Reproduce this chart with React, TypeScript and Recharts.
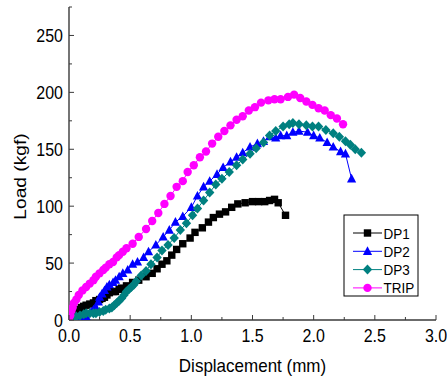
import React from 'react';
import { LineChart, Line, XAxis, YAxis } from 'recharts';

const dp1Disp = [0, 0.02, 0.04, 0.06, 0.08, 0.1, 0.12, 0.14, 0.17, 0.2, 0.22, 0.25, 0.27, 0.29, 0.31, 0.33, 0.36, 0.38, 0.41, 0.43, 0.47, 0.52, 0.57, 0.63, 0.68, 0.72, 0.76, 0.8, 0.84, 0.88, 0.93, 0.99, 1.03, 1.09, 1.14, 1.18, 1.23, 1.28, 1.33, 1.38, 1.44, 1.5, 1.55, 1.6, 1.64, 1.68, 1.71, 1.77];
const dp1Load = [0, 3, 5, 7, 9, 11, 12, 13, 14, 15, 17, 18, 19, 20, 22, 24, 25, 25, 27, 28, 30, 33, 35, 38, 41, 45, 49, 52, 57, 62, 67, 72, 77, 81, 86, 90, 93, 95, 99, 102, 103, 104, 104, 104, 105, 106, 103, 92];

const dp2Disp = [0, 0.05, 0.1, 0.14, 0.18, 0.2, 0.22, 0.24, 0.25, 0.27, 0.29, 0.31, 0.33, 0.36, 0.38, 0.41, 0.44, 0.48, 0.52, 0.56, 0.61, 0.65, 0.71, 0.77, 0.82, 0.87, 0.93, 1.0, 1.05, 1.1, 1.15, 1.21, 1.26, 1.32, 1.37, 1.42, 1.48, 1.54, 1.59, 1.64, 1.69, 1.73, 1.78, 1.83, 1.88, 1.95, 2.0, 2.05, 2.11, 2.16, 2.22, 2.26, 2.31];
const dp2Load = [0, 0, 1, 3, 7, 9, 11, 16, 20, 23, 26, 29, 31, 33, 35, 38, 41, 44, 49, 51, 55, 60, 66, 73, 79, 86, 91, 99, 109, 117, 122, 128, 134, 139, 143, 147, 152, 155, 157, 161, 160, 162, 162, 165, 166, 165, 162, 160, 156, 152, 148, 146, 124];

const dp3Disp = [0, 0.03, 0.06, 0.09, 0.12, 0.14, 0.17, 0.2, 0.22, 0.25, 0.28, 0.3, 0.33, 0.35, 0.37, 0.39, 0.41, 0.43, 0.45, 0.47, 0.49, 0.51, 0.53, 0.55, 0.59, 0.63, 0.67, 0.72, 0.76, 0.81, 0.86, 0.91, 0.96, 1.01, 1.05, 1.1, 1.15, 1.2, 1.25, 1.31, 1.37, 1.42, 1.48, 1.53, 1.59, 1.64, 1.69, 1.75, 1.8, 1.83, 1.88, 1.94, 1.99, 2.04, 2.1, 2.16, 2.21, 2.26, 2.3, 2.34, 2.39];
const dp3Load = [0, 2, 3, 4, 5, 6, 6, 6, 6, 7, 8, 9, 10, 11, 13, 15, 17, 19, 22, 25, 27, 29, 31, 34, 39, 43, 49, 55, 61, 66, 72, 79, 85, 92, 98, 105, 112, 119, 124, 130, 136, 141, 146, 151, 156, 162, 166, 170, 172, 173, 172, 171, 170, 170, 167, 164, 161, 157, 154, 150, 147];

const tripDisp = [0, 0.01, 0.02, 0.03, 0.04, 0.06, 0.08, 0.11, 0.14, 0.17, 0.2, 0.22, 0.25, 0.28, 0.3, 0.33, 0.36, 0.39, 0.41, 0.44, 0.47, 0.52, 0.57, 0.63, 0.68, 0.73, 0.78, 0.83, 0.88, 0.93, 0.97, 1.02, 1.07, 1.12, 1.17, 1.22, 1.27, 1.32, 1.37, 1.42, 1.47, 1.52, 1.57, 1.63, 1.68, 1.73, 1.79, 1.84, 1.89, 1.94, 1.99, 2.04, 2.09, 2.14, 2.19, 2.24];
const tripLoad = [0, 4, 8, 11, 15, 18, 22, 26, 29, 32, 35, 38, 41, 44, 46, 49, 51, 55, 57, 60, 63, 67, 73, 80, 87, 94, 102, 109, 117, 122, 130, 136, 143, 148, 155, 161, 166, 171, 176, 179, 184, 187, 191, 193, 194, 194, 196, 198, 195, 192, 189, 186, 184, 180, 177, 172];

const seriesNames = ['DP1', 'DP2', 'DP3', 'TRIP'];
const seriesColors = ['#000000', '#0000FF', '#008080', '#FF00FF'];
const seriesShapes = ['square', 'triangle', 'diamond', 'circle'];

const xTicks = [0, 0.25, 0.5, 0.75, 1, 1.25, 1.5, 1.75, 2, 2.25, 2.5, 2.75, 3];
const xMajor = [0, 0.5, 1, 1.5, 2, 2.5, 3];
const yTicks = [0, 25, 50, 75, 100, 125, 150, 175, 200, 225, 250, 275];
const yMajor = [0, 50, 100, 150, 200, 250];

const toRows = (xs: number[], ys: number[]) => xs.map((x, i) => ({ x, y: ys[i] }));
const seriesData = [
  toRows(dp1Disp, dp1Load),
  toRows(dp2Disp, dp2Load),
  toRows(dp3Disp, dp3Load),
  toRows(tripDisp, tripLoad),
];

const FONT = '"Liberation Sans", Arial, sans-serif';
const AXIS = '#3a3a3a';
const TEXT = '#000000';

function Marker({ shape, cx, cy, color }: any) {
  if (cx == null || cy == null) return null;
  if (shape === 'square') return <rect x={cx - 3.7} y={cy - 3.7} width={7.4} height={7.4} fill={color} />;
  if (shape === 'triangle') return <polygon points={`${cx},${cy - 5} ${cx - 4.6},${cy + 3.6} ${cx + 4.6},${cy + 3.6}`} fill={color} />;
  if (shape === 'diamond') return <polygon points={`${cx},${cy - 5} ${cx + 4.7},${cy} ${cx},${cy + 5} ${cx - 4.7},${cy}`} fill={color} />;
  return <circle cx={cx} cy={cy} r={4.2} fill={color} />;
}

function SText({ x, y, sx = 1, sy = 1, rot = 0, anchor = 'start', size, children }: any) {
  return (
    <text
      transform={`translate(${x},${y}) rotate(${rot}) scale(${sx},${sy})`}
      x={0}
      y={0}
      textAnchor={anchor}
      fontSize={size}
      fontFamily={FONT}
      fill={TEXT}
    >
      {children}
    </text>
  );
}

const XTickBottom = (props: any) => {
  const { x, y, payload } = props;
  const major = xMajor.includes(payload.value);
  return (
    <g>
      <line x1={x} x2={x} y1={y} y2={y - (major ? 5 : 3)} stroke={AXIS} strokeWidth={1} />
      {major && (
        <SText x={x} y={y + 22} sy={1.15} anchor="middle" size={16}>
          {payload.value.toFixed(1)}
        </SText>
      )}
    </g>
  );
};
const XTickTop = (props: any) => {
  const { x, y, payload } = props;
  const major = xMajor.includes(payload.value);
  return <line x1={x} x2={x} y1={y} y2={y + (major ? 5 : 3)} stroke={AXIS} strokeWidth={1} />;
};
const YTickLeft = (props: any) => {
  const { x, y, payload } = props;
  const major = yMajor.includes(payload.value);
  return (
    <g>
      <line x1={x} x2={x + (major ? 5 : 3)} y1={y} y2={y} stroke={AXIS} strokeWidth={1} />
      {major && (
        <SText x={x - 6} y={y + 6.5} sy={1.15} anchor="end" size={16}>
          {payload.value}
        </SText>
      )}
    </g>
  );
};
const YTickRight = (props: any) => {
  const { x, y, payload } = props;
  const major = yMajor.includes(payload.value);
  return <line x1={x} x2={x - (major ? 5 : 3)} y1={y} y2={y} stroke={AXIS} strokeWidth={1} />;
};

function LegendBox() {
  return (
    <svg width={80} height={86} style={{ position: 'absolute', left: 343, top: 214 }}>
      <rect x={1} y={1} width={74} height={81} fill="#fff" stroke="#000" strokeWidth={1} />
      {seriesNames.map((n, i) => {
        const cy = 19 + i * 18.3;
        return (
          <g key={n}>
            <line x1={10} x2={39} y1={cy} y2={cy} stroke={seriesColors[i]} strokeWidth={1} />
            <Marker shape={seriesShapes[i]} cx={24.5} cy={cy} color={seriesColors[i]} />
            <SText x={40.5} y={cy + 5.5} sy={1.1} size={13.5}>{n}</SText>
          </g>
        );
      })}
    </svg>
  );
}

export default function App() {
  return (
    <div style={{ position: 'absolute', left: 0, top: 0, width: 447, height: 380, background: '#fff' }}>
      <LineChart width={447} height={380} margin={{ top: 7, right: 11, bottom: 0, left: 0 }}>
        <XAxis
          xAxisId="b"
          type="number"
          dataKey="x"
          domain={[0, 3]}
          ticks={xTicks}
          interval={0}
          height={60}
          stroke={AXIS}
          strokeWidth={1.4}
          tickSize={0}
          tickMargin={0}
          tick={<XTickBottom />}
          tickLine={false}
          allowDataOverflow
          label={{
            content: ({ viewBox }: any) => (
              <SText x={viewBox.x + viewBox.width / 2} y={viewBox.y + 52} sy={1.08} anchor="middle" size={17}>
                Displacement (mm)
              </SText>
            ),
          }}
        />
        <XAxis
          xAxisId="t"
          orientation="top"
          type="number"
          dataKey="x"
          domain={[0, 3]}
          ticks={xTicks}
          interval={0}
          height={0}
          stroke={AXIS}
          strokeWidth={1.4}
          tickSize={0}
          tickMargin={0}
          tick={<XTickTop />}
          tickLine={false}
        />
        <YAxis
          yAxisId="l"
          type="number"
          domain={[0, 275]}
          ticks={yTicks}
          interval={0}
          width={69}
          stroke={AXIS}
          strokeWidth={1.4}
          tickSize={0}
          tickMargin={0}
          tick={<YTickLeft />}
          tickLine={false}
          allowDataOverflow
          label={{
            content: ({ viewBox }: any) => (
              <SText x={26} y={viewBox.y + viewBox.height / 2 + 13} rot={-90} sx={1.13} anchor="middle" size={17}>
                Load (kgf)
              </SText>
            ),
          }}
        />
        <YAxis
          yAxisId="r"
          orientation="right"
          type="number"
          domain={[0, 275]}
          ticks={yTicks}
          interval={0}
          width={0}
          stroke={AXIS}
          strokeWidth={1.4}
          tickSize={0}
          tickMargin={0}
          tick={<YTickRight />}
          tickLine={false}
        />
        {seriesData.map((d, i) => (
          <Line
            key={seriesNames[i]}
            xAxisId="b"
            yAxisId="l"
            data={d}
            dataKey="y"
            name={seriesNames[i]}
            stroke={seriesColors[i]}
            strokeWidth={1}
            isAnimationActive={false}
            dot={(p: any) => <Marker key={`${seriesNames[i]}-${p.index}`} shape={seriesShapes[i]} cx={p.cx} cy={p.cy} color={seriesColors[i]} />}
            activeDot={false}
          />
        ))}
      </LineChart>
      <LegendBox />
    </div>
  );
}
